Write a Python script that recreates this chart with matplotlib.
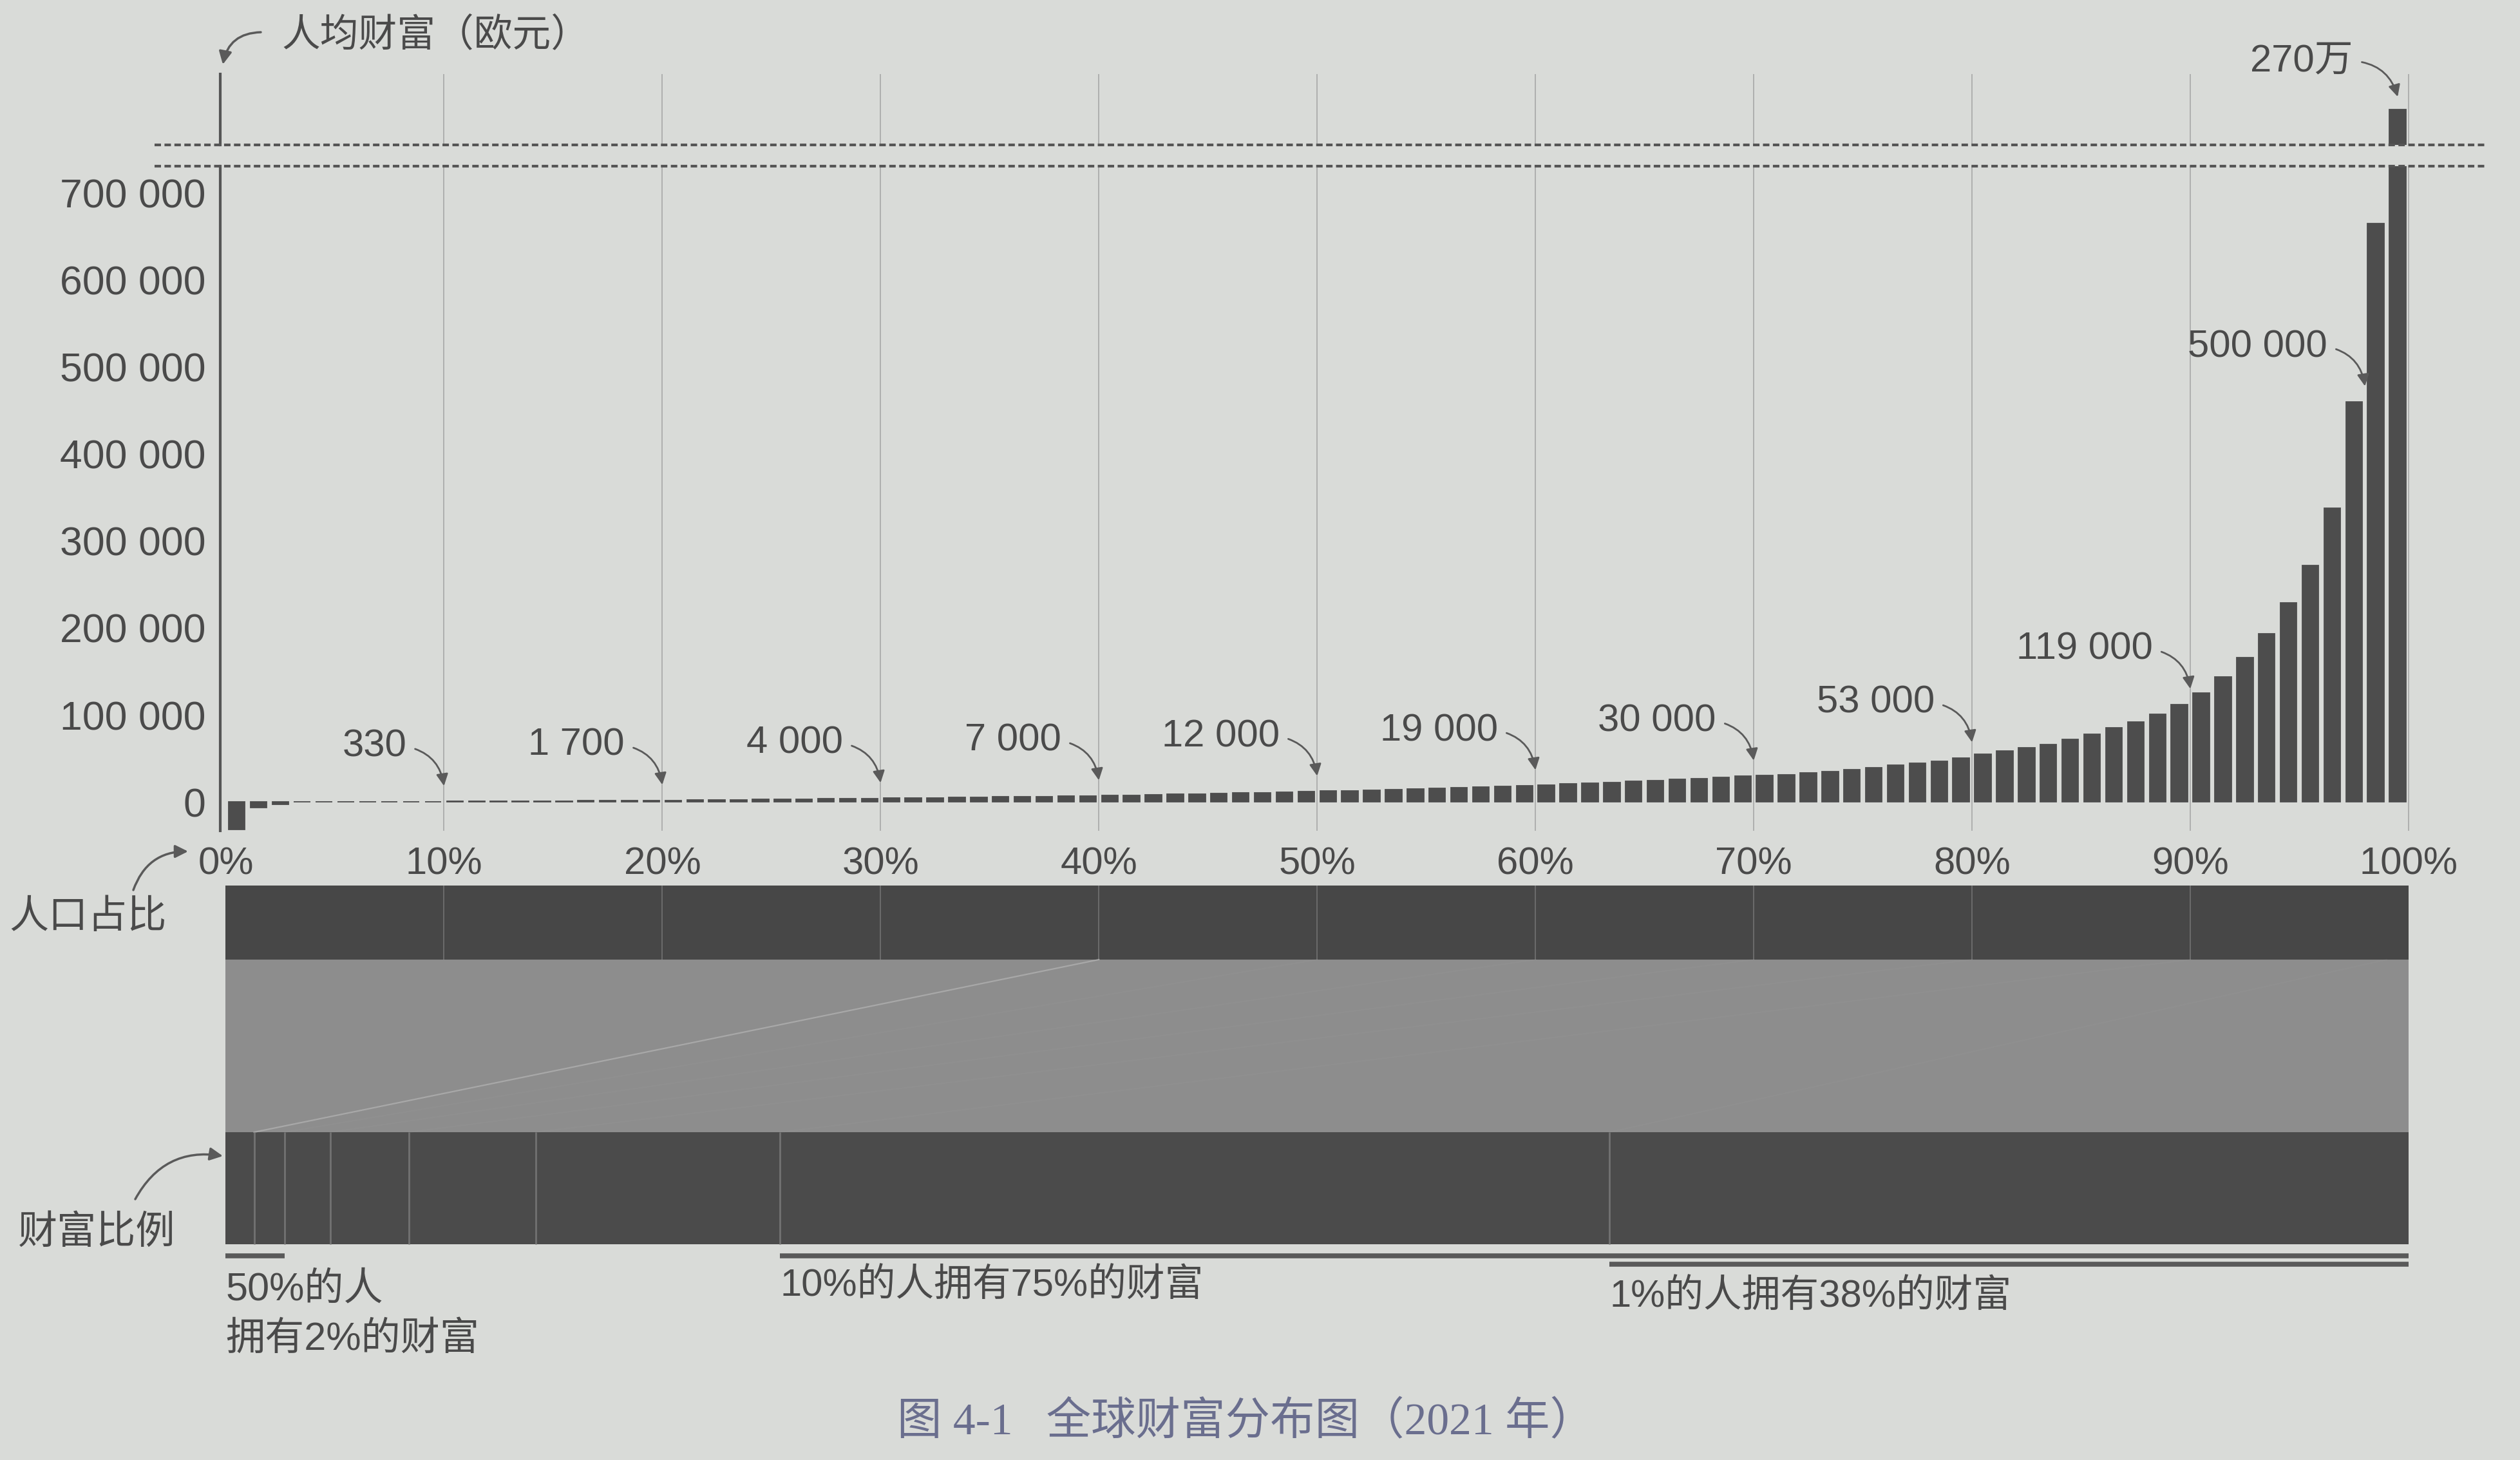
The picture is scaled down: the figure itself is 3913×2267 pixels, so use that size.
import matplotlib.pyplot as plt
from matplotlib.ticker import FuncFormatter

plt.rcParams['font.family'] = ['Liberation Sans', 'Noto Sans CJK SC']

W, H = 3913, 2267

# average wealth per adult (EUR) of each percentile, bottom to top
decile1 = [-32000, -7000, -3000, 20, 60, 110, 160, 210, 260, 310]
decile2 = [400, 520, 650, 790, 930, 1080, 1230, 1390, 1550, 1650]
decile3 = [1830, 2050, 2280, 2510, 2740, 2980, 3220, 3480, 3740, 3950]
decile4 = [4150, 4440, 4720, 5010, 5300, 5600, 5900, 6200, 6520, 6850]
decile5 = [7230, 7680, 8150, 8630, 9120, 9620, 10150, 10700, 11250, 11800]
decile6 = [12300, 12950, 13600, 14250, 14900, 15600, 16300, 17050, 17800, 18600]
decile7 = [19500, 20500, 21500, 22500, 23500, 24600, 25800, 27000, 28300, 29500]
decile8 = [30500, 31500, 33000, 35000, 37000, 39000, 42000, 44500, 47000, 50500]
decile9 = [55000, 58500, 62000, 66000, 72000, 78000, 85000, 92000, 101000, 112000]
decile10 = [125000, 144000, 166000, 193000, 229000, 272000, 338000, 460000, 665000, 2700000]
wealth = (decile1 + decile2 + decile3 + decile4 + decile5 + decile6 + decile7
          + decile8 + decile9 + decile10)

y_ticks = [0, 100000, 200000, 300000, 400000, 500000, 600000, 700000]
x_ticks = [0, 10, 20, 30, 40, 50, 60, 70, 80, 90, 100]

# threshold annotations
ann_pct = [10, 20, 30, 40, 50, 60, 70, 80, 90, 98]
ann_text = ['330', '1 700', '4 000', '7 000', '12 000', '19 000', '30 000',
            '53 000', '119 000', '500 000']
top_text = '270万'

# population bar (deciles) and wealth bar groups
pop_share = [10, 10, 10, 10, 10, 10, 10, 10, 10, 10]
group_pop = [40, 10, 10, 10, 10, 10, 9, 1]
group_wealth = [1.3, 1.4, 2.1, 3.6, 5.8, 11.2, 38.0, 36.6]

bg = '#d9dbd8'
bar_c = '#4d4d4d'
txt_c = '#4a4a4a'
arr_c = '#5a5a5a'


def cum(vals):
    out = [0]
    for v in vals:
        out.append(out[-1] + v)
    return out


def fp(x, y):
    return (x / W, 1 - y / H)


fig = plt.figure(figsize=(W / 100, H / 100), dpi=100, facecolor=bg)

left = 342 / W
width = (3757 - 342) / W
ax_top = fig.add_axes([left, 1 - 225 / H, width, 110 / H])
ax_bot = fig.add_axes([left, 1 - 1290 / H, width, 1032 / H])
ax_s = fig.add_axes([left, 1 - 2120 / H, width, 780 / H])

xs = [i + 0.5 for i in range(len(wealth))]
for ax in (ax_top, ax_bot):
    ax.set_facecolor('none')
    ax.bar(xs, wealth, width=0.75, color=bar_c, edgecolor=bar_c, linewidth=1.3, zorder=2)
    for p in x_ticks[1:]:
        ax.axvline(p, color='#a3a3a3', lw=1.1, zorder=0)
    ax.set_xlim(-0.25, 100.5)
    for s in ('top', 'right', 'bottom'):
        ax.spines[s].set_visible(False)
    ax.spines['left'].set_color('#555555')
    ax.spines['left'].set_linewidth(3)
    ax.tick_params(length=0)

ax_bot.set_ylim(-33300, 731000)
ax_top.set_ylim(2600000, 2800000)
ax_top.set_xticks([])
ax_top.set_yticks([])

ax_bot.set_yticks(y_ticks)
ax_bot.yaxis.set_major_formatter(FuncFormatter(lambda v, _: f'{int(v):,}'.replace(',', ' ')))
ax_bot.set_xticks(x_ticks)
ax_bot.set_xticklabels([f'{p}%' for p in x_ticks])
ax_bot.tick_params(axis='y', labelsize=45, pad=16, labelcolor=txt_c)
ax_bot.tick_params(axis='x', labelsize=43, pad=18, labelcolor=txt_c)

# break marks
dash = dict(ls=(0, (2.4, 1.3)), lw=3, color='#555555', clip_on=False)
ax_bot.plot([-0.03, 1.03], [1, 1], transform=ax_bot.transAxes, **dash)
ax_top.plot([-0.03, 1.03], [0, 0], transform=ax_top.transAxes, **dash)

arrow = dict(arrowstyle='-|>,head_length=0.5,head_width=0.25', color=arr_c, lw=2,
             mutation_scale=22, shrinkA=8, shrinkB=0, relpos=(1.0, 0.5),
             connectionstyle='arc3,rad=-0.35')

for p, t in zip(ann_pct, ann_text):
    ax_bot.annotate(t, xy=(p, wealth[p - 1] + 18000), xytext=(-42, 44),
                    textcoords='offset points', ha='right', va='center',
                    fontsize=43, color=txt_c, arrowprops=arrow)

ax_top.annotate(top_text, xy=(xs[-1], wealth[-1] + 36000), xytext=(-50, 40),
                textcoords='offset points', ha='right', va='center',
                fontsize=43, color=txt_c, arrowprops=arrow, annotation_clip=False)

# y axis title
fig.text(*fp(437, 55), '人均财富（欧元）', ha='left', va='center', fontsize=43, color=txt_c)
plain = dict(arrowstyle='-|>,head_length=0.5,head_width=0.25', color=arr_c, lw=2.5,
             mutation_scale=24, shrinkA=0, shrinkB=0)
ax_bot.annotate('', xy=fp(346, 100), xycoords='figure fraction',
                xytext=fp(405, 50), textcoords='figure fraction',
                arrowprops=dict(plain, connectionstyle='arc3,rad=0.4'))

# population -> wealth strip
pop_top, pop_bot = 1375, 1490
w_top, w_bot = 1758, 1932
cum_pop = cum(pop_share)
cum_w = cum(group_wealth)
cum_gp = cum(group_pop)

ax_s.axis('off')
ax_s.set_xlim(-0.25, 100.5)
ax_s.set_ylim(2120, 1340)

ax_s.barh((pop_top + pop_bot) / 2, pop_share, left=cum_pop[:-1], height=pop_bot - pop_top,
          color='#474747', linewidth=0)
ax_s.vlines(cum_pop[1:-1], pop_top, pop_bot, color='#6e6e6e', lw=1.3)

ax_s.fill_between([cum_pop[0], cum_pop[-1]], pop_bot, w_top, color='#8d8d8d', linewidth=0)
for i, (gp, gw) in enumerate(zip(cum_gp[1:-1], cum_w[1:-1])):
    ax_s.plot([gp, gw], [pop_bot, w_top], color='#b4b4b4', lw=1.6,
              alpha=0.7 if i == 0 else 0.07)

ax_s.barh((w_top + w_bot) / 2, group_wealth, left=cum_w[:-1], height=w_bot - w_top,
          color='#4b4b4b', linewidth=0)
ax_s.vlines(cum_w[1:-1], w_top, w_bot, color='#727272', lw=2)

line = dict(color='#5a5a5a', lw=5.5, solid_capstyle='butt')
ax_s.plot([cum_w[0], cum_w[2]], [1950, 1950], **line)
ax_s.plot([cum_w[6], cum_w[-1]], [1950, 1950], **line)
ax_s.plot([cum_w[7], cum_w[-1]], [1963, 1963], **line)

ax_s.text(cum_w[0], 2003, '50%的人', ha='left', va='center', fontsize=44, color=txt_c)
ax_s.text(cum_w[0], 2080, '拥有2%的财富', ha='left', va='center', fontsize=44, color=txt_c)
ax_s.text(cum_w[6], 1997, '10%的人拥有75%的财富', ha='left', va='center', fontsize=43, color=txt_c)
ax_s.text(cum_w[7], 2014, '1%的人拥有38%的财富', ha='left', va='center', fontsize=43, color=txt_c)

# side labels
fig.text(*fp(137, 1425), '人口占比', ha='center', va='center', fontsize=44, color=txt_c)
fig.text(*fp(150, 1915), '财富比例', ha='center', va='center', fontsize=44, color=txt_c)
ax_s.annotate('', xy=fp(292, 1322), xycoords='figure fraction',
              xytext=fp(207, 1382), textcoords='figure fraction',
              arrowprops=dict(plain, connectionstyle='arc3,rad=-0.35'))
ax_s.annotate('', xy=fp(346, 1795), xycoords='figure fraction',
              xytext=fp(210, 1862), textcoords='figure fraction',
              arrowprops=dict(plain, connectionstyle='arc3,rad=-0.35'))

fig.text(*fp(1934, 2209), '图 4-1   全球财富分布图（2021 年）', ha='center', va='center',
         fontsize=50, color='#6a6e8e', family=['Liberation Serif', 'Noto Sans CJK SC'])

fig.savefig('out.png', dpi=100, facecolor=fig.get_facecolor())
